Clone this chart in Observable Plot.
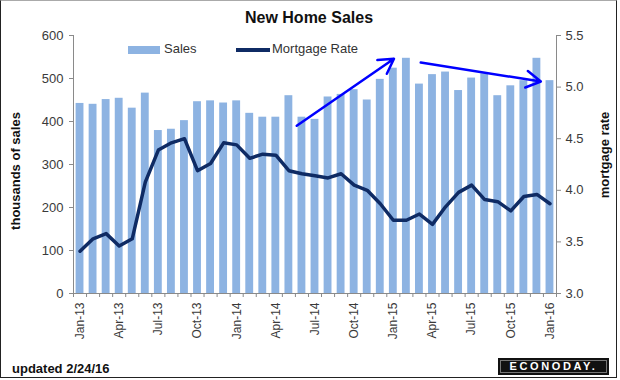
<!DOCTYPE html>
<html>
<head>
<meta charset="utf-8">
<script src="https://cdn.jsdelivr.net/npm/d3@7"></script>
<script src="https://cdn.jsdelivr.net/npm/@observablehq/plot@0.6"></script>
<style>
  html, body { margin: 0; padding: 0; background: #fff; }
  #wrap { position: relative; width: 620px; height: 380px; overflow: hidden; font-family: "Liberation Sans", Arial, sans-serif; }
  #frame { position: absolute; left: 0; top: 0; width: 615px; height: 376px; border: 1px solid #222; border-top-color: #aaa; pointer-events: none; }
  .ov { position: absolute; white-space: nowrap; color: #111; }
  #title { left: 0; width: 618px; top: 9px; text-align: center; font-weight: bold; font-size: 16px; }
  .leg { font-size: 13px; color: #333; top: 41px; }
  #ytl { left: 15px; top: 171px; font-weight: bold; font-size: 13px; transform: translate(-50%, -50%) rotate(-90deg); }
  #ytr { left: 604px; top: 155px; font-weight: bold; font-size: 13px; transform: translate(-50%, -50%) rotate(-90deg); }
  #upd { left: 12px; top: 361px; font-weight: bold; font-size: 13px; }
  #logo { position: absolute; left: 498px; top: 358px; width: 109px; height: 15px; background: #111; border: 1px solid #111; outline: 1px solid #777; outline-offset: -3px; color: #fff; font-weight: bold; font-size: 11px; letter-spacing: 2.6px; text-align: center; line-height: 15px; }
</style>
</head>
<body>
<div id="wrap">
  <div id="chart"></div>
  <div id="title" class="ov">New Home Sales</div>
  <div class="ov leg" style="left:128px;top:46px;width:32px;height:8px;background:#8DB3E2;"></div>
  <div class="ov leg" style="left:164px;">Sales</div>
  <div class="ov leg" style="left:236px;top:48px;width:34px;height:4px;background:#0F2B64;"></div>
  <div class="ov leg" style="left:272px;">Mortgage Rate</div>
  <div id="ytl" class="ov">thousands of sales</div>
  <div id="ytr" class="ov">mortgage rate</div>
  <div id="upd" class="ov">updated 2/24/16</div>
  <div id="logo">ECONODAY.</div>
  <div id="frame"></div>
</div>
<script>
const months = ["Jan-13","Feb-13","Mar-13","Apr-13","May-13","Jun-13","Jul-13","Aug-13","Sep-13","Oct-13","Nov-13","Dec-13",
  "Jan-14","Feb-14","Mar-14","Apr-14","May-14","Jun-14","Jul-14","Aug-14","Sep-14","Oct-14","Nov-14","Dec-14",
  "Jan-15","Feb-15","Mar-15","Apr-15","May-15","Jun-15","Jul-15","Aug-15","Sep-15","Oct-15","Nov-15","Dec-15",
  "Jan-16"];
const sales = [442,440,451,454,431,466,379,382,402,446,448,443,
  448,419,410,410,460,410,405,457,463,474,450,498,
  524,547,487,509,515,472,501,511,460,483,495,547,
  495];
const rate = [3.41,3.53,3.58,3.46,3.53,4.08,4.39,4.46,4.50,4.19,4.26,4.46,
  4.44,4.31,4.35,4.34,4.19,4.16,4.14,4.12,4.16,4.05,4.00,3.87,
  3.71,3.71,3.77,3.67,3.84,3.98,4.05,3.91,3.89,3.80,3.94,3.96,
  3.87];
const salesTicks = [0,100,200,300,400,500,600];
const rateTicks = [3.0,3.5,4.0,4.5,5.0,5.5];
const labelMonths = ["Jan-13","Apr-13","Jul-13","Oct-13","Jan-14","Apr-14","Jul-14","Oct-14","Jan-15","Apr-15","Jul-15","Oct-15","Jan-16"];
// annotation arrows (month position, thousands of sales)
const arrowFromX = [17.1, 26.6];
const arrowFromY = [390, 537];
const arrowToX = [24.55, 35.8];
const arrowToY = [546, 493];

const data = months.map((m, i) => ({m, i, sales: sales[i], rate: rate[i]}));
const arrows = arrowFromX.map((x, k) => ({x1: x, y1: arrowFromY[k], x2: arrowToX[k], y2: arrowToY[k]}));

// rate -> sales-axis mapping
const r2s = d3.scaleLinear().domain([3.0, 5.5]).range([0, 600]);

const n = months.length;
const chart = Plot.plot({
  width: 620,
  height: 380,
  marginLeft: 73,
  marginRight: 64,
  marginTop: 35,
  marginBottom: 87,
  style: {fontFamily: "Liberation Sans, Arial, sans-serif", fontSize: "12px", color: "#3a3a3a", background: "transparent"},
  x: {domain: [0, n], axis: null},
  y: {domain: [0, 600], axis: null},
  marks: [
    Plot.rectY(data, {x1: d => d.i, x2: d => d.i + 1, y: "sales", fill: "#8DB3E2", insetLeft: 2.6, insetRight: 2.6}),
    Plot.ruleY([0], {stroke: "#8a8a8a"}),
    Plot.ruleX([0, n], {stroke: "#8a8a8a"}),
    Plot.line(data, {x: d => d.i + 0.5, y: d => r2s(d.rate), stroke: "#0F2B64", strokeWidth: 3.5, strokeLinejoin: "round", strokeLinecap: "round"}),
    Plot.arrow(arrows, {x1: "x1", y1: "y1", x2: "x2", y2: "y2", stroke: "#0000FF", strokeWidth: 2.5, headLength: 10}),
    Plot.axisY({ticks: salesTicks, tickSize: 4, tickPadding: 6, stroke: "#8a8a8a", label: null, fontSize: 13}),
    Plot.axisY({anchor: "right", ticks: rateTicks.map(r => r2s(r)), tickFormat: v => r2s.invert(v).toFixed(1), tickSize: 4, tickPadding: 5, stroke: "#8a8a8a", label: null, fontSize: 13}),
    Plot.axisX({ticks: d3.range(n + 1), tickFormat: () => "", tickSize: 4, stroke: "#8a8a8a", label: null}),
    Plot.axisX({ticks: labelMonths.map(m => months.indexOf(m) + 0.5), tickFormat: v => months[Math.round(v - 0.5)], tickSize: 0, tickPadding: 9, tickRotate: -90, label: null, fontSize: 12})
  ]
});
document.getElementById("chart").appendChild(chart);
</script>
</body>
</html>
